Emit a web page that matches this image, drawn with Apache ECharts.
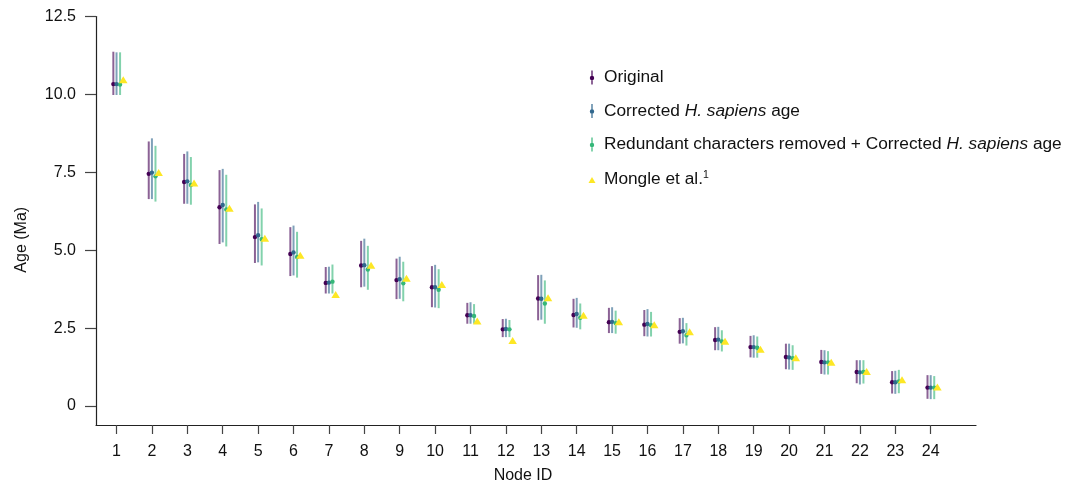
<!DOCTYPE html>
<html>
<head>
<meta charset="utf-8">
<script src="https://cdn.jsdelivr.net/npm/echarts@6/dist/echarts.min.js"></script>
<style>
  html, body { margin: 0; padding: 0; background: #fff; }
  #chart { width: 1066px; height: 484px; }
</style>
</head>
<body>
<div id="chart"></div>
<script>
// node ids on the x axis
const nodes = [1,2,3,4,5,6,7,8,9,10,11,12,13,14,15,16,17,18,19,20,21,22,23,24];
const yTicks = [0, 2.5, 5, 7.5, 10, 12.5];

// Original
const origMid  = [10.33,7.45,7.19,6.38,5.42,4.88,3.95,4.51,4.04,3.81,2.91,2.46,3.45,2.92,2.69,2.61,2.38,2.12,1.89,1.57,1.41,1.09,0.76,0.59];
const origLow  = [9.98,6.64,6.49,5.20,4.59,4.17,3.61,3.81,3.43,3.17,2.64,2.21,2.75,2.52,2.34,2.24,2.00,1.79,1.56,1.18,1.03,0.73,0.40,0.23];
const origHigh = [11.37,8.49,8.09,7.57,6.47,5.74,4.46,5.30,4.73,4.49,3.31,2.79,4.20,3.44,3.15,3.08,2.82,2.53,2.25,2.00,1.80,1.47,1.12,0.99];

// Corrected H. sapiens age
const corrMid  = [10.33,7.49,7.21,6.45,5.48,4.93,3.96,4.52,4.07,3.81,2.91,2.47,3.44,2.95,2.70,2.63,2.40,2.13,1.89,1.56,1.40,1.08,0.76,0.59];
const corrLow  = [9.98,6.64,6.49,5.25,4.61,4.19,3.61,3.83,3.44,3.16,2.64,2.21,2.77,2.51,2.34,2.23,2.01,1.79,1.55,1.17,1.01,0.69,0.39,0.22];
const corrHigh = [11.35,8.59,8.17,7.61,6.55,5.79,4.47,5.37,4.79,4.53,3.33,2.80,4.21,3.47,3.17,3.11,2.83,2.54,2.27,2.00,1.79,1.47,1.13,0.99];

// Redundant characters removed + corrected
const redMid  = [10.32,7.37,7.09,6.31,5.35,4.78,3.99,4.38,3.94,3.73,2.89,2.46,3.29,2.83,2.66,2.59,2.27,2.07,1.87,1.53,1.40,1.09,0.79,0.59];
const redLow  = [9.98,6.56,6.46,5.12,4.51,4.12,3.61,3.73,3.36,3.14,2.64,2.21,2.64,2.46,2.32,2.23,1.94,1.75,1.55,1.16,1.01,0.72,0.41,0.22];
const redHigh = [11.35,8.35,7.99,7.42,6.34,5.59,4.54,5.14,4.63,4.39,3.27,2.76,4.03,3.29,3.06,3.02,2.66,2.43,2.23,1.95,1.76,1.47,1.16,0.96];

// Mongle et al.
const mongle = [10.47,7.49,7.16,6.35,5.38,4.84,3.58,4.52,4.10,3.90,2.73,2.10,3.47,2.91,2.70,2.61,2.38,2.08,1.82,1.55,1.40,1.11,0.84,0.61];

const FONT = '"Liberation Sans", Arial, Helvetica, sans-serif';
const dodge = [-0.09, 0, 0.1, 0.19];

function errRows(mid, low, high, off) {
  return nodes.map((n, i) => [n + off, mid[i], low[i], high[i]]);
}

function renderErr(params, api) {
  const x = api.value(0);
  const top = api.coord([x, api.value(3)]);
  const bot = api.coord([x, api.value(2)]);
  const mid = api.coord([x, api.value(1)]);
  const color = api.visual('color');
  return {
    type: 'group',
    children: [
      { type: 'line', shape: { x1: top[0], y1: top[1], x2: bot[0], y2: bot[1] },
        style: { stroke: color, lineWidth: 2, opacity: 0.62 } },
      { type: 'circle', shape: { cx: mid[0], cy: mid[1], r: 2.2 },
        style: { fill: color } }
    ]
  };
}

function errSeries(name, color, mid, low, high, off) {
  return {
    name: name,
    type: 'custom',
    renderItem: renderErr,
    itemStyle: { color: color },
    encode: { x: 0, y: [1, 2, 3] },
    data: errRows(mid, low, high, off),
    z: 2
  };
}

const barIcon = 'path://M0,0M8,14M3.4,0H4.6V14H3.4Z M1.8,7.5A2.2,2.2 0 1,1 6.2,7.5A2.2,2.2 0 1,1 1.8,7.5Z';
const triIcon = 'path://M0,0M8,14M0.5,10.5L4,4.5L7.5,10.5Z';

const chart = echarts.init(document.getElementById('chart'));
chart.setOption({
  animation: false,
  textStyle: { fontFamily: FONT },
  grid: { left: 96, right: 90, top: 16.5, bottom: 59, containLabel: false, outerBoundsMode: 'none' },
  legend: {
    orient: 'vertical',
    left: 588,
    top: 69,
    padding: 0,
    itemWidth: 8,
    itemHeight: 14,
    itemGap: 16.5,
    selectedMode: false,
    data: [
      { name: 'Original', icon: barIcon },
      { name: 'Corrected', icon: barIcon },
      { name: 'Redundant', icon: barIcon },
      { name: 'Mongle', icon: triIcon }
    ],
    formatter: function (name) {
      if (name === 'Original') return '{n|Original}';
      if (name === 'Corrected') return '{n|Corrected }{i|H. sapiens}{n| age}';
      if (name === 'Redundant') return '{n|Redundant characters removed + Corrected }{i|H. sapiens}{n| age}';
      return '{n|Mongle et al.}{s|1}';
    },
    textStyle: {
      padding: [0, 0, 0, 3],
      rich: {
        n: { fontSize: 17.3, color: '#111', fontFamily: FONT, lineHeight: 20 },
        i: { fontSize: 17.3, color: '#111', fontFamily: FONT, fontStyle: 'italic', lineHeight: 20 },
        s: { fontSize: 10.5, color: '#111', fontFamily: FONT, lineHeight: 11, verticalAlign: 'top' }
      }
    }
  },
  xAxis: {
    type: 'value',
    min: 0.42,
    max: 25.28,
    name: 'Node ID',
    nameLocation: 'middle',
    nameGap: 43,
    nameTextStyle: { fontSize: 16, color: '#111', padding: [0, 26, 0, 0] },
    splitLine: { show: false },
    axisLine: { show: true, onZero: false, lineStyle: { color: '#222', width: 1.2 } },
    axisTick: { show: true, length: 9, customValues: nodes, lineStyle: { color: '#444', width: 1.2 } },
    axisLabel: { customValues: nodes, fontSize: 16, color: '#111', margin: 19 }
  },
  yAxis: {
    type: 'value',
    min: -0.61,
    max: 12.5,
    name: 'Age (Ma)',
    nameLocation: 'middle',
    nameGap: 66,
    nameTextStyle: { fontSize: 16, color: '#111', padding: [0, 38, 0, 0] },
    splitLine: { show: false },
    axisLine: { show: true, onZero: false, lineStyle: { color: '#222', width: 1.2 } },
    axisTick: { show: true, length: 11, customValues: yTicks, lineStyle: { color: '#444', width: 1.2 } },
    axisLabel: {
      customValues: yTicks,
      fontSize: 16,
      color: '#111',
      margin: 20,
      formatter: v => (v === 0 ? '0' : v.toFixed(1))
    }
  },
  series: [
    errSeries('Original', '#440154', origMid, origLow, origHigh, dodge[0]),
    errSeries('Corrected', '#31688E', corrMid, corrLow, corrHigh, dodge[1]),
    errSeries('Redundant', '#35B779', redMid, redLow, redHigh, dodge[2]),
    {
      name: 'Mongle',
      type: 'scatter',
      symbol: 'triangle',
      symbolSize: [8.5, 7],
      itemStyle: { color: '#FDE725', opacity: 1 },
      data: nodes.map((n, i) => [n + dodge[3], mongle[i]]),
      z: 3
    }
  ]
});
</script>
</body>
</html>
